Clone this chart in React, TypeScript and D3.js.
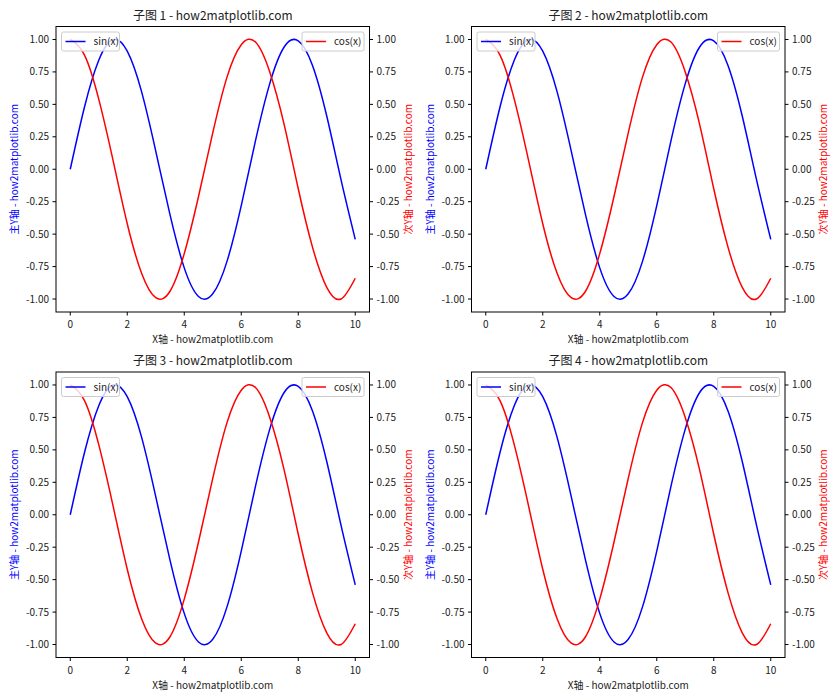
import React from "react";
import * as d3 from "d3";

const xs = [0, 0.5, 1, 1.5, 2, 2.5, 3, 3.5, 4, 4.5, 5, 5.5, 6, 6.5, 7, 7.5, 8, 8.5, 9, 9.5, 10];
const sinVals = [0.0, 0.48, 0.84, 1.0, 0.91, 0.6, 0.14, -0.35, -0.76, -0.98, -0.96, -0.71, -0.28, 0.22, 0.66, 0.94, 0.99, 0.8, 0.41, -0.08, -0.54];
const cosVals = [1.0, 0.88, 0.54, 0.07, -0.42, -0.8, -0.99, -0.94, -0.65, -0.21, 0.28, 0.71, 0.96, 0.98, 0.75, 0.35, -0.15, -0.6, -0.91, -1.0, -0.84];
const xTicks = [0, 2, 4, 6, 8, 10];
const yTicks = [-1, -0.75, -0.5, -0.25, 0, 0.25, 0.5, 0.75, 1];
const panelTitles = ["子图 1 - how2matplotlib.com", "子图 2 - how2matplotlib.com", "子图 3 - how2matplotlib.com", "子图 4 - how2matplotlib.com"];

const FONT = "'Noto Sans CJK SC', 'DejaVu Sans', sans-serif";

const Panel = ({ left, top, title }: { left: number; top: number; title: string }) => {
  const w = 313.5;
  const h = 285.5;
  const x = d3.scaleLinear().domain([-0.5, 10.5]).range([0, w]);
  const y1 = d3.scaleLinear().domain([-1.1, 1.1]).range([h, 0]);
  const y2 = d3.scaleLinear().domain([-1.1, 1.1]).range([h, 0]);
  const line = (vals: number[], y: d3.ScaleLinear<number, number>) =>
    d3
      .line<number>()
      .x((_, i) => x(xs[i]))
      .y((d) => y(d))
      .curve(d3.curveNatural)(vals) || "";

  return (
    <g transform={`translate(${left},${top})`} fontFamily={FONT}>
      <text x={w / 2} y={-7} textAnchor="middle" fontSize={12} fill="#222">
        {title}
      </text>
      <path d={line(sinVals, y1)} fill="none" stroke="blue" strokeWidth={1.5} />
      <path d={line(cosVals, y2)} fill="none" stroke="red" strokeWidth={1.5} />
      <rect x={0} y={0} width={w} height={h} fill="none" stroke="#000" strokeWidth={1} />
      {xTicks.map((t) => (
        <g key={"x" + t} transform={`translate(${x(t)},${h})`}>
          <line y2={3.5} stroke="#000" />
          <text y={16} textAnchor="middle" fontSize={10} fill="#222">
            {t}
          </text>
        </g>
      ))}
      {yTicks.map((t) => (
        <g key={"y" + t}>
          <line x1={-3.5} y1={y1(t)} y2={y1(t)} stroke="#000" />
          <text x={-7} y={y1(t) + 3.5} textAnchor="end" fontSize={10} fill="#222">
            {t.toFixed(2)}
          </text>
          <line x1={w} x2={w + 3.5} y1={y2(t)} y2={y2(t)} stroke="#000" />
          <text x={w + 7} y={y2(t) + 3.5} textAnchor="start" fontSize={10} fill="#222">
            {t.toFixed(2)}
          </text>
        </g>
      ))}
      <text x={w / 2} y={h + 31} textAnchor="middle" fontSize={10} fill="#222">
        X轴 - how2matplotlib.com
      </text>
      <text transform={`translate(-38,${h / 2}) rotate(-90)`} textAnchor="middle" fontSize={10} fill="blue">
        主Y轴 - how2matplotlib.com
      </text>
      <text transform={`translate(${w + 42},${h / 2}) rotate(-90)`} textAnchor="middle" fontSize={10} fill="red">
        次Y轴 - how2matplotlib.com
      </text>
      <g transform="translate(5.5,5.5)">
        <rect width={58} height={19} rx={2} fill="#fff" fillOpacity={0.8} stroke="#ccc" />
        <line x1={4} x2={24} y1={9.5} y2={9.5} stroke="blue" strokeWidth={1.5} />
        <text x={32} y={13} fontSize={10} fill="#222">
          sin(x)
        </text>
      </g>
      <g transform={`translate(${w - 67.5},5.5)`}>
        <rect width={62} height={19} rx={2} fill="#fff" fillOpacity={0.8} stroke="#ccc" />
        <line x1={4} x2={24} y1={9.5} y2={9.5} stroke="red" strokeWidth={1.5} />
        <text x={32} y={13} fontSize={10} fill="#222">
          cos(x)
        </text>
      </g>
    </g>
  );
};

export default function App() {
  const lefts = [56, 471.5];
  const tops = [26.5, 372];
  return (
    <svg width={840} height={700} style={{ display: "block", position: "absolute", left: 0, top: 0, background: "#fff" }}>
      <rect width={840} height={700} fill="#fff" />
      {panelTitles.map((t, i) => (
        <Panel key={t} left={lefts[i % 2]} top={tops[Math.floor(i / 2)]} title={t} />
      ))}
    </svg>
  );
}
